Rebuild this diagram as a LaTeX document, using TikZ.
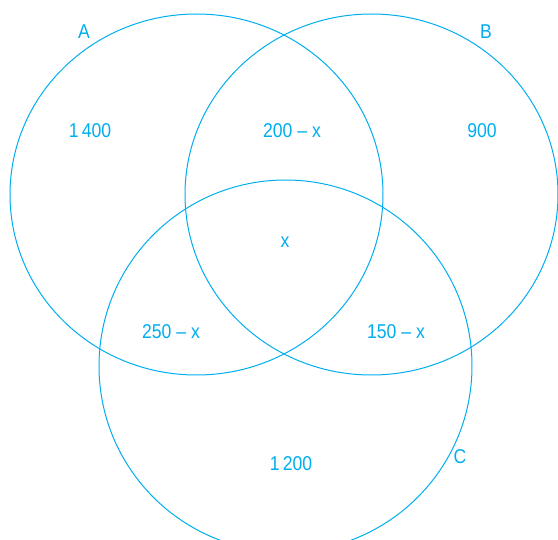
\documentclass[tikz,border=0pt]{standalone}
\usepackage{fontspec}
\setmainfont{Liberation Sans}[FakeStretch=0.88]
\usetikzlibrary{shapes.geometric}
\definecolor{venncyan}{RGB}{0,174,239}

\begin{document}
\begin{tikzpicture}[x=1pt, y=-1pt,
    set/.style={ellipse, draw=venncyan, line width=1pt, minimum width=373pt, minimum height=361pt, inner sep=0pt},
    val/.style={text=venncyan, font=\fontsize{20}{22}\selectfont, inner sep=0pt}
]
\useasboundingbox (0,0) rectangle (558,540);
\clip (0,0) rectangle (558,540);
% the three sets
\node[set] (setA) at (196.5,194.5) {};
\node[set] (setB) at (371.5,194.5) {};
\node[set, minimum height=372pt] (setC) at (285.5,366) {};
% set names
\node[val] (nameA) at (84,32) {A};
\node[val] (nameB) at (486,32) {B};
\node[val] (nameC) at (460,457) {C};
% region counts
\node[val] (onlyA) at (90,131) {1\,400};
\node[val] (onlyB) at (482,131) {900};
\node[val] (onlyC) at (291,464) {1\,200};
\node[val] (AB) at (292,131) {200 -- x};
\node[val] (AC) at (171,332) {250 -- x};
\node[val] (BC) at (396,332) {150 -- x};
\node[val] (ABC) at (285,242) {x};
\end{tikzpicture}
\end{document}
